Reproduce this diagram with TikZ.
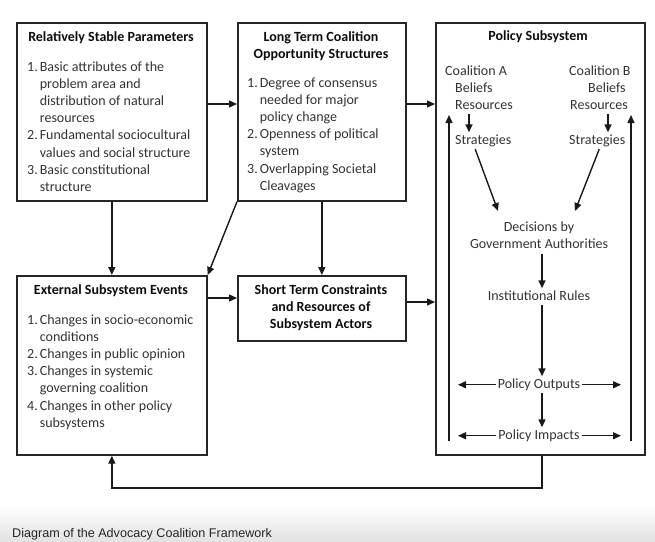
\documentclass[tikz,border=0pt]{standalone}
\usepackage{fontspec}
\setmainfont{Carlito}
\newfontfamily\capfont{Liberation Sans}
\usetikzlibrary{arrows.meta}
\begin{document}
\begin{tikzpicture}[x=1pt,y=-1pt,
  box/.style={draw=black!85, line width=1.7pt, inner sep=0pt},
  conn/.style={draw=black!90, line width=1.4pt, -{Triangle[length=8pt,width=7pt]}},
  txt/.style={inner sep=0pt, text=black!80, font=\fontsize{14}{17.2}\selectfont},
  ttl/.style={inner sep=0pt, text=black!95, font=\fontsize{14}{17.2}\selectfont\bfseries},
  pst/.style={inner xsep=2pt, inner ysep=1.5pt, text height=10pt, text depth=3.5pt, text=black!80, font=\fontsize{14}{17.2}\selectfont},
]
\useasboundingbox (0,0) rectangle (655,541);
\fill[white] (0,0) rectangle (655,541);
\shade[top color=white, bottom color=black!11] (0,505) rectangle (655,541);

% boxes
\node[box, minimum width=190pt, minimum height=178pt, anchor=north west] (rsp) at (16,22) {};
\node[box, minimum width=168pt, minimum height=178pt, anchor=north west] (ltc) at (237,22) {};
\node[box, minimum width=209pt, minimum height=432pt, anchor=north west] (ps) at (435,22) {};
\node[box, minimum width=190pt, minimum height=179pt, anchor=north west] (ese) at (16,275) {};
\node[box, minimum width=168pt, minimum height=65pt, anchor=north west] (stc) at (237,275) {};

% box 1
\node[ttl, anchor=base] (rspt) at (111,41) {Relatively Stable Parameters};
\node[txt, anchor=base west] (rspl) at (27,71) {\begin{tabular}[t]{@{}l@{\hspace{2pt}}l@{}}
1.&Basic attributes of the\\
 &problem area and\\
 &distribution of natural\\
 &resources\\
2.&Fundamental sociocultural\\
 &values and social structure\\
3.&Basic constitutional\\
 &structure
\end{tabular}};

% box 2
\node[ttl, anchor=base] (ltct) at (321,41) {\begin{tabular}[t]{@{}c@{}}Long Term Coalition\\Opportunity Structures\end{tabular}};
\node[txt, anchor=base west] (ltcl) at (247,87) {\begin{tabular}[t]{@{}l@{\hspace{2pt}}l@{}}
1.&Degree of consensus\\
 &needed for major\\
 &policy change\\
2.&Openness of political\\
 &system\\
3.&Overlapping Societal\\
 &Cleavages
\end{tabular}};

% box 4
\node[ttl, anchor=base] (eset) at (111,294) {External Subsystem Events};
\node[txt, anchor=base west] (esel) at (27,324) {\begin{tabular}[t]{@{}l@{\hspace{2pt}}l@{}}
1.&Changes in socio-economic\\
 &conditions\\
2.&Changes in public opinion\\
3.&Changes in systemic\\
 &governing coalition\\
4.&Changes in other policy\\
 &subsystems
\end{tabular}};

% box 5
\node[ttl, anchor=base] (stct) at (321,294) {\begin{tabular}[t]{@{}c@{}}Short Term Constraints\\and Resources of\\Subsystem Actors\end{tabular}};

% policy subsystem
\node[ttl, anchor=base] (pstt) at (538,40) {Policy Subsystem};
\node[pst, anchor=base west, inner xsep=0pt] (caA) at (445,75) {Coalition A};
\node[pst, anchor=base west, inner xsep=0pt] (belA) at (455,92) {Beliefs};
\node[pst, anchor=base west, inner xsep=0pt] (resA) at (455,109) {Resources};
\node[pst, anchor=base west, inner xsep=0pt] (strA) at (455,144) {Strategies};
\node[pst, anchor=base west, inner xsep=0pt] (caB) at (569,75) {Coalition B};
\node[pst, anchor=base west, inner xsep=0pt] (belB) at (588,92) {Beliefs};
\node[pst, anchor=base west, inner xsep=0pt] (resB) at (570,109) {Resources};
\node[pst, anchor=base west, inner xsep=0pt] (strB) at (569,144) {Strategies};
\node[txt, anchor=base] (dec) at (539,231) {\begin{tabular}[t]{@{}c@{}}Decisions by\\Government Authorities\end{tabular}};
\node[pst, anchor=base] (inst) at (539,300) {Institutional Rules};
\node[pst, anchor=base] (po) at (539,388) {Policy Outputs};
\node[pst, anchor=base] (pi) at (539,439) {Policy Impacts};

% caption
\node[anchor=base west, inner sep=0pt, text=black!85, font=\capfont\fontsize{12.6}{15}\selectfont] (cap) at (12,537.5) {Diagram of the Advocacy Coalition Framework};

% helper coordinates
\coordinate (y1) at (0,104);
\coordinate (y2) at (0,298);
\coordinate (y3) at (0,302);
\coordinate (fb) at (542,488);
\coordinate (ax) at (542,0);
\coordinate (xa) at (469,0);
\coordinate (xb) at (608,0);
\coordinate (dA) at (498,211);
\coordinate (dB) at (575,211);
\coordinate (lL) at (458,0);
\coordinate (lR) at (621,0);
\coordinate (vLb) at (449,441);
\coordinate (vLt) at (449,115);
\coordinate (vRb) at (631,441);
\coordinate (vRt) at (631,115);

% outer connectors
\draw[conn] (rsp.east |- y1) -- (ltc.west |- y1);
\draw[conn] (ltc.east |- y1) -- (ps.west |- y1);
\draw[conn] (rsp.south) -- (ese.north);
\draw[conn] (ltc.south west) -- (ese.north east);
\draw[conn] (ltc.south) -- (stc.north);
\draw[conn] (ese.east |- y2) -- (stc.west |- y2);
\draw[conn] (stc.east |- y3) -- (ps.west |- y3);
\draw[conn] (ps.south -| fb) -- (fb) -- (fb -| ese.south) -- (ese.south);

% inner connectors
\draw[conn] (resA.south -| xa) -- (strA.north -| xa);
\draw[conn] (resB.south -| xb) -- (strB.north -| xb);
\draw[conn] ([xshift=-8pt]strA.south) -- (dA);
\draw[conn] ([xshift=2pt]strB.south) -- (dB);
\draw[conn] (dec.south -| ax) -- (inst.north -| ax);
\draw[conn] (inst.south -| ax) -- (po.north -| ax);
\draw[conn] (po.south -| ax) -- (pi.north -| ax);
\draw[conn] (po.west) -- (po.west -| lL);
\draw[conn] (po.east) -- (po.east -| lR);
\draw[conn] (pi.west) -- (pi.west -| lL);
\draw[conn] (pi.east) -- (pi.east -| lR);
\draw[conn] (vLb) -- (vLt);
\draw[conn] (vRb) -- (vRt);
\end{tikzpicture}
\end{document}
